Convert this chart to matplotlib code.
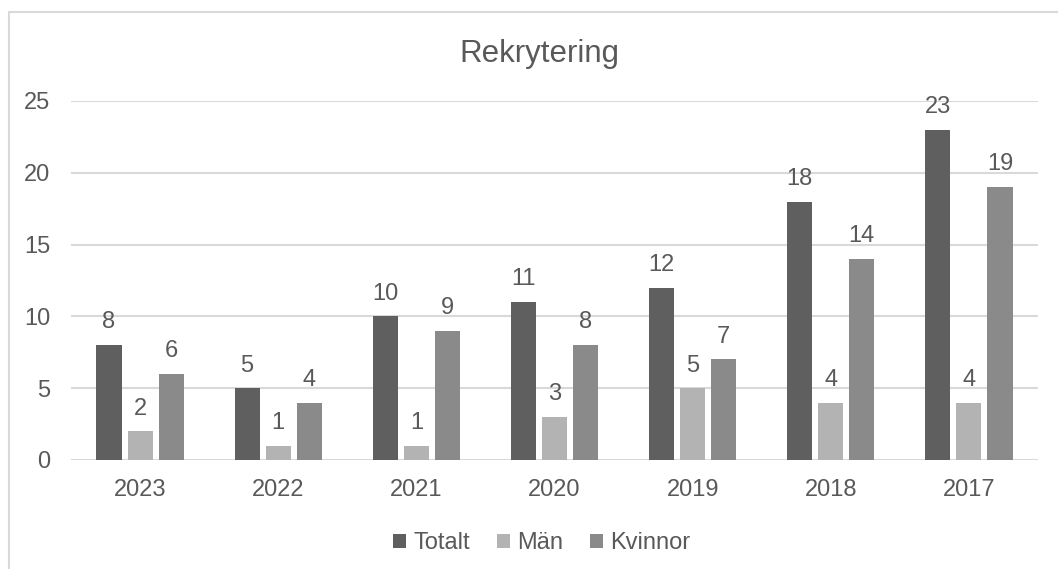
import matplotlib
matplotlib.use("Agg")
import matplotlib.pyplot as plt
import numpy as np
from matplotlib.patches import Rectangle

years = ["2023", "2022", "2021", "2020", "2019", "2018", "2017"]
totalt = [8, 5, 10, 11, 12, 18, 23]
man = [2, 1, 1, 3, 5, 4, 4]
kvinnor = [6, 4, 9, 8, 7, 14, 19]
series_names = ["Totalt", "Män", "Kvinnor"]
colors = ["#5f5f5f", "#b3b3b3", "#8a8a8a"]
text_color = "#595959"

plt.rcParams['font.family'] = ['Liberation Sans', 'DejaVu Sans']

W, H = 1058, 569
fig = plt.figure(figsize=(W / 100, H / 100), dpi=100)
fig.patches.append(Rectangle((9 / W, -0.2), 1.2, (H - 12) / H + 0.2, transform=fig.transFigure,
                             facecolor="none", edgecolor="#d9d9d9", linewidth=1.5, zorder=-5))

ax = fig.add_axes([71 / W, (H - 460) / H, (1038 - 71) / W, (460 - 101) / H])
ax.set_facecolor("none")
x = np.arange(len(years))
bw = 0.182
offs = [-0.225, 0.0, 0.225]
fs = 17
for vals, off, c, name in zip([totalt, man, kvinnor], offs, colors, series_names):
    bars = ax.bar(x + off, vals, width=bw, color=c, label=name, zorder=3)
    for b, v in zip(bars, vals):
        ax.annotate(str(v), (b.get_x() + b.get_width() / 2, v), xytext=(0, 12),
                    textcoords="offset points", ha="center", va="baseline",
                    fontsize=fs, color=text_color)

ax.set_xlim(-0.5, len(years) - 0.5)
ax.set_ylim(0, 25)
ax.set_yticks(range(0, 26, 5))
ax.set_xticks(x)
ax.set_xticklabels(years)
ax.tick_params(axis="both", length=0, labelsize=fs, labelcolor=text_color)
ax.tick_params(axis="y", pad=15)
ax.tick_params(axis="x", pad=14)
ax.grid(axis="y", color="#d9d9d9", linewidth=1.5, zorder=0)
for s in ax.spines.values():
    s.set_visible(False)

fig.text(539 / W, 1 - 62 / H, "Rekrytering", ha="center", va="baseline",
         fontsize=22.5, color=text_color)

leg = fig.legend(loc="center", bbox_to_anchor=(542 / W, 1 - 543 / H), ncol=3,
                 frameon=False, fontsize=fs, labelcolor=text_color,
                 handlelength=0.55, handleheight=0.55, handletextpad=0.3, columnspacing=1.15)

fig.savefig("out.png", dpi=100)
